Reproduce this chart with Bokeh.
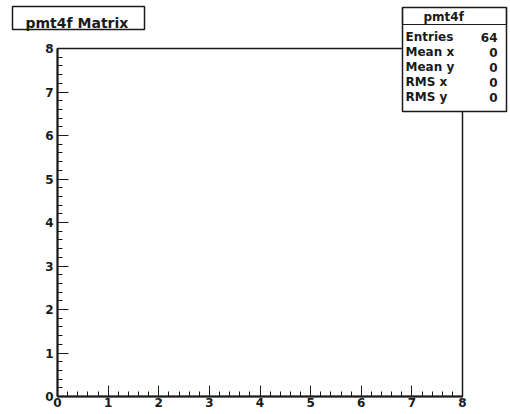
from bokeh.plotting import figure
from bokeh.models import Range1d, FixedTicker, Label, BoxAnnotation
from bokeh.embed import file_html
from bokeh.resources import INLINE

# ---- data ----
title_text = "pmt4f Matrix"
hist_name = "pmt4f"
x_limits = [0, 8]
y_limits = [0, 8]
x_ticks = [0, 1, 2, 3, 4, 5, 6, 7, 8]
y_ticks = [0, 1, 2, 3, 4, 5, 6, 7, 8]
n_minor = 5
stat_names = ["Entries", "Mean x", "Mean y", "RMS x", "RMS y"]
stat_values = ["64", "0", "0", "0", "0"]

# ---- layout (pixels in the page) ----
W, H = 510, 414
FL, FR, FT, FB = 57, 462, 48, 396   # axes frame edges
FONT = "DejaVu Sans"
INK = "#1a1a1a"

sx = (FR - FL) / (x_limits[1] - x_limits[0])
sy = (FB - FT) / (y_limits[1] - y_limits[0])
xr = Range1d(x_limits[0] - FL / sx, x_limits[1] + (W - FR) / sx)
yr = Range1d(y_limits[0] - (H - FB) / sy, y_limits[1] + FT / sy)

p = figure(width=W, height=H, output_backend="svg", toolbar_location=None,
           x_range=xr, y_range=yr, min_border=0, title=None,
           x_axis_location="below", y_axis_location="left")
p.background_fill_color = "white"
p.border_fill_color = "white"
p.outline_line_color = None
p.grid.visible = False

# frame box (top/right edges)
p.quad(left=[x_limits[0]], right=[x_limits[1]], bottom=[y_limits[0]], top=[y_limits[1]],
       fill_color=None, line_color=INK, line_width=1.5)

def minor(ticks):
    out = []
    for a, b in zip(ticks[:-1], ticks[1:]):
        for k in range(n_minor):
            out.append(a + (b - a) * k / n_minor)
    return out

for ax, ticks, loc in ((p.xaxis[0], x_ticks, y_limits[0]), (p.yaxis[0], y_ticks, x_limits[0])):
    ax.fixed_location = loc
    ax.bounds = (ticks[0], ticks[-1])
    ax.ticker = FixedTicker(ticks=ticks, minor_ticks=minor(ticks))
    ax.major_tick_in = 11
    ax.major_tick_out = 0
    ax.minor_tick_in = 5
    ax.minor_tick_out = 0
    ax.axis_line_width = 2
    ax.axis_line_color = INK
    ax.major_tick_line_color = INK
    ax.minor_tick_line_color = INK
    ax.major_label_text_font = FONT
    ax.major_label_text_font_style = "bold"
    ax.major_label_text_font_size = "12px"
    ax.major_label_text_color = INK
p.xaxis[0].major_label_standoff = 1
p.yaxis[0].major_label_standoff = 4

def box(l, r, t, b, lw=1.5, fill=True):
    return BoxAnnotation(left=l, right=r, top=t, bottom=b,
                         left_units="canvas", right_units="canvas",
                         top_units="canvas", bottom_units="canvas",
                         fill_color="white" if fill else None,
                         fill_alpha=1.0 if fill else 0.0,
                         line_color=INK, line_alpha=1.0, line_width=lw,
                         level="overlay")

def text(x, y, s, size, align="left"):
    return Label(x=x, y=y, x_units="canvas", y_units="canvas", text=s,
                 text_align=align, text_baseline="alphabetic",
                 text_font=FONT, text_font_style="bold",
                 text_font_size=size, text_color=INK, level="overlay")

# title box
p.add_layout(box(12, 144, 6, 29))
p.add_layout(text(25, 22.7, title_text, "14px"))

# stats box
p.add_layout(box(402, 506, 7, 111))
p.add_layout(box(402, 506, 7, 24, lw=1.2, fill=False))
p.add_layout(text(423, 16.7, hist_name, "12px"))
for i, (name, val) in enumerate(zip(stat_names, stat_values)):
    yy = 36.7 + 15 * i
    p.add_layout(text(405, yy, name, "12px"))
    p.add_layout(text(497, yy, val, "12px", align="right"))

open("out.html", "w").write(file_html(p, INLINE))
